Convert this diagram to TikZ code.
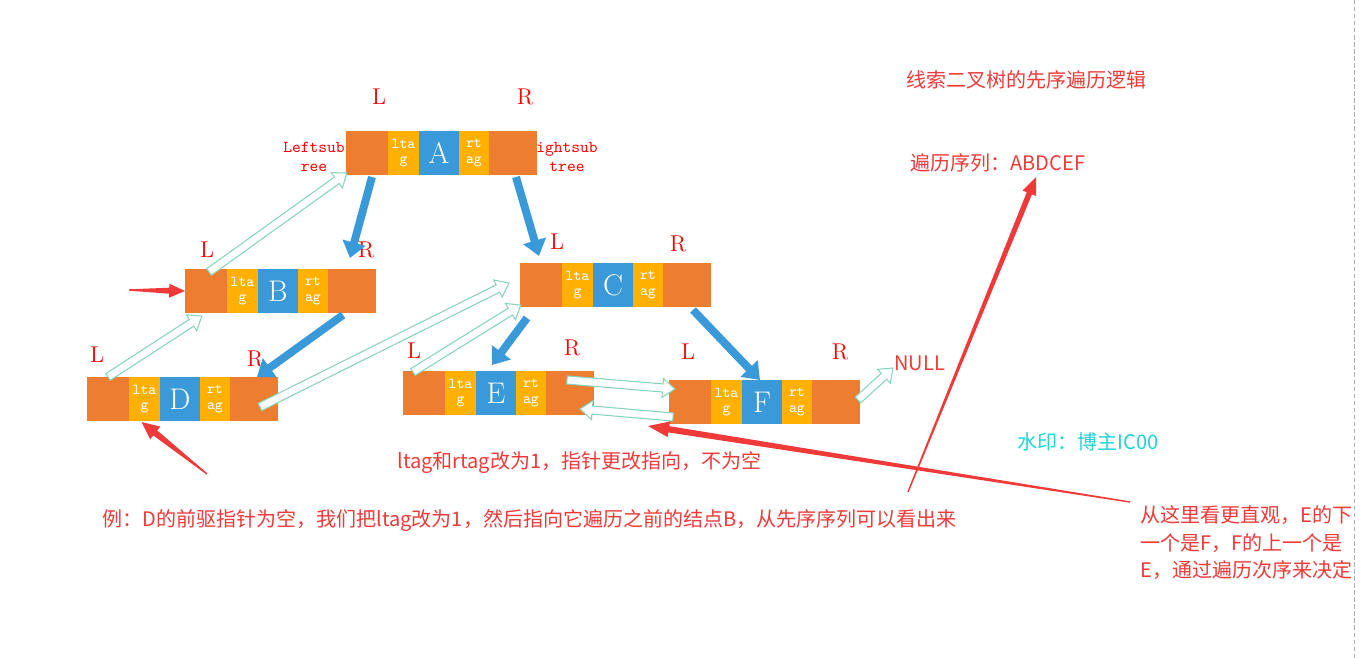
\documentclass[tikz,border=0pt]{standalone}
\usepackage{fontspec}
\newfontfamily\cjk{Noto Sans CJK SC}
\usetikzlibrary{arrows.meta,positioning,calc}

\definecolor{boxorange}{RGB}{237,125,49}
\definecolor{tagyellow}{RGB}{255,176,0}
\definecolor{ptrblue}{RGB}{58,154,217}
\definecolor{threadgreen}{RGB}{135,212,188}
\definecolor{notered}{RGB}{240,58,58}
\definecolor{lrred}{RGB}{255,0,0}
\definecolor{markcyan}{RGB}{30,214,214}
\definecolor{dashgray}{RGB}{175,175,175}

% hollow thread arrow from #1 to #2
\newcommand\threadarrow[2]{%
  \filldraw[threadline] let \p1=(#1), \p2=(#2),
    \n1={atan2(\y2-\y1,\x2-\x1)}, \n2={veclen(\x2-\x1,\y2-\y1)} in
    [shift={(\p1)}, rotate=\n1]
    (0pt,-2.3pt) -- (\n2-7pt,-2.3pt) -- (\n2-7pt,-5.4pt) -- (\n2,0pt)
    -- (\n2-7pt,5.4pt) -- (\n2-7pt,2.3pt) -- (0pt,2.3pt) -- cycle;}
% tapered red arrow: tail, tip, shaft half width, head half width, head length
\newcommand\wedgearrow[5]{%
  \fill[notered] let \p1=(#1), \p2=(#2),
    \n1={atan2(\y2-\y1,\x2-\x1)}, \n2={veclen(\x2-\x1,\y2-\y1)} in
    [shift={(\p1)}, rotate=\n1]
    (0pt,-0.4pt) -- (\n2-#5,-#3) -- (\n2-#5,-#4) -- (\n2,0pt)
    -- (\n2-#5,#4) -- (\n2-#5,#3) -- (0pt,0.4pt) -- cycle;}

\begin{document}
\begin{tikzpicture}[x=0.02cm, y=-0.02cm,
  seg/.style={minimum height=0.88cm, inner sep=0, outer sep=0},
  lside/.style={seg, fill=boxorange, minimum width=0.84cm},
  rside/.style={seg, fill=boxorange, minimum width=0.96cm},
  tagseg/.style={seg, fill=tagyellow, text=white, align=center,
    font=\ttfamily\fontsize{8.6}{8.6}\selectfont},
  keyseg/.style={seg, fill=ptrblue, text=white, minimum width=0.8cm,
    font=\fontsize{17}{17}\selectfont},
  lrlabel/.style={text=lrred, inner sep=0, font=\fontsize{13}{13}\selectfont},
  subtree/.style={text=lrred, inner sep=0, align=center,
    font=\ttfamily\fontsize{9.5}{10.8}\selectfont},
  note/.style={text=notered, inner sep=0, font=\cjk\fontsize{11.4}{15.6}\selectfont},
  childptr/.style={ptrblue, line width=4.5pt, -{Triangle[length=9pt,width=13pt]}},
  threadline/.style={draw=threadgreen, fill=white, line width=0.6pt}]

  \fill[white] (0,0) rectangle (1369,658);
  \useasboundingbox (0,0) rectangle (1369,658);
  \draw[dashgray, dash pattern=on 2.5pt off 1.5pt] (1354,0) -- (1354,658);

  % tree nodes
  \foreach \n/\x/\y in {A/346/131, B/185/269, C/520/263, D/87/377, E/403/371, F/669/380} {
    \node[lside, anchor=north west] (\n-l) at (\x,\y) {};
    \node[tagseg, minimum width=0.62cm, right=0pt of \n-l] (\n-lt) {lta\\g};
    \node[keyseg, right=0pt of \n-lt] (\n-k) {\n};
    \node[tagseg, minimum width=0.6cm, right=0pt of \n-k] (\n-rt) {rt\\ag};
    \node[rside, right=0pt of \n-rt] (\n-r) {};
  }

  % L / R labels
  \foreach \n/\lx/\ly/\rx/\ry in {A/379/97/525/97, B/207/250/366/250, C/557/242/678/244,
      D/97/355/255/359, E/414/351/572/348, F/688/352/840/352} {
    \node[lrlabel] (\n-L) at (\lx,\ly) {L};
    \node[lrlabel] (\n-R) at (\rx,\ry) {R};
  }
  \node[subtree] (A-ls) at (314,157) {Leftsub\\ree};
  \node[subtree] (A-rs) at (567,157) {ightsub\\tree};

  % texts
  \node[note, anchor=west] (title) at (906,80) {线索二叉树的先序遍历逻辑};
  \node[note, anchor=west] (seq) at (910,163) {遍历序列：ABDCEF};
  \node[note, anchor=west] (null) at (894,363) {NULL};
  \node[note, anchor=west] (tagnote) at (397,463) {ltag和rtag改为1，指针更改指向，不为空};
  \node[note, anchor=west] (example) at (102,521)
    {例：D的前驱指针为空，我们把ltag改为1，然后指向它遍历之前的结点B，从先序序列可以看出来};
  \node[note, anchor=west, align=left] (order) at (1140,543)
    {从这里看更直观，E的下\\一个是F，F的上一个是\\E，通过遍历次序来决定};
  \node[note, text=markcyan, anchor=west] (mark) at (1017,442) {水印：博主IC00};

  % child pointers
  \draw[childptr] ([shift={(5,2)}]A-l.south) -- ([shift={(-2,-11)}]B-r.north);
  \draw[childptr] ([shift={(3,2)}]A-r.south) -- ([shift={(-2,-7)}]C-l.north);
  \draw[childptr] ([shift={(-9,2)}]B-r.south) -- ([shift={(3,0)}]D-r.north);
  \draw[childptr] ([shift={(-14,11)}]C-l.south) -- ([shift={(-4,-6)}]E-k.north);
  \draw[childptr] ([shift={(6,3)}]C-r.south) -- ([shift={(-2,0)}]F-k.north);

  % threads
  \threadarrow{D-l.north}{[shift={(-4,3)}]B-l.south}
  \threadarrow{[shift={(3,3)}]B-l.north}{[shift={(1,-2)}]A-l.south west}
  \threadarrow{[shift={(6,8)}]D-r.center}{[shift={(-11,-2)}]C-l.west}
  \threadarrow{[shift={(-11,1)}]E-l.north}{[shift={(1,-2)}]C-l.south west}
  \threadarrow{[shift={(-3,-13)}]E-r.center}{[shift={(6,-13)}]F-l.west}
  \threadarrow{[shift={(4,15)}]F-l.west}{[shift={(10,16)}]E-r.center}
  \threadarrow{[shift={(-2,-2)}]F-r.east}{[shift={(-1,5)}]null.west}

  % red pointers
  \coordinate (b-tail) at (129,290);
  \coordinate (d-tail) at (207,474);
  \coordinate (f-tail) at (1130,502);
  \coordinate (s-tail) at (908,492);
  \coordinate (s-tip) at (1036,177);
  \wedgearrow{b-tail}{B-l.west}{1.7pt}{4pt}{9pt}
  \wedgearrow{d-tail}{[shift={(-3,1)}]D-lt.south}{1.8pt}{4.6pt}{10pt}
  \wedgearrow{f-tail}{[shift={(-21,2)}]F-l.south west}{1.8pt}{4.5pt}{12pt}
  \wedgearrow{s-tail}{s-tip}{1.6pt}{4.2pt}{10pt}
\end{tikzpicture}
\end{document}
